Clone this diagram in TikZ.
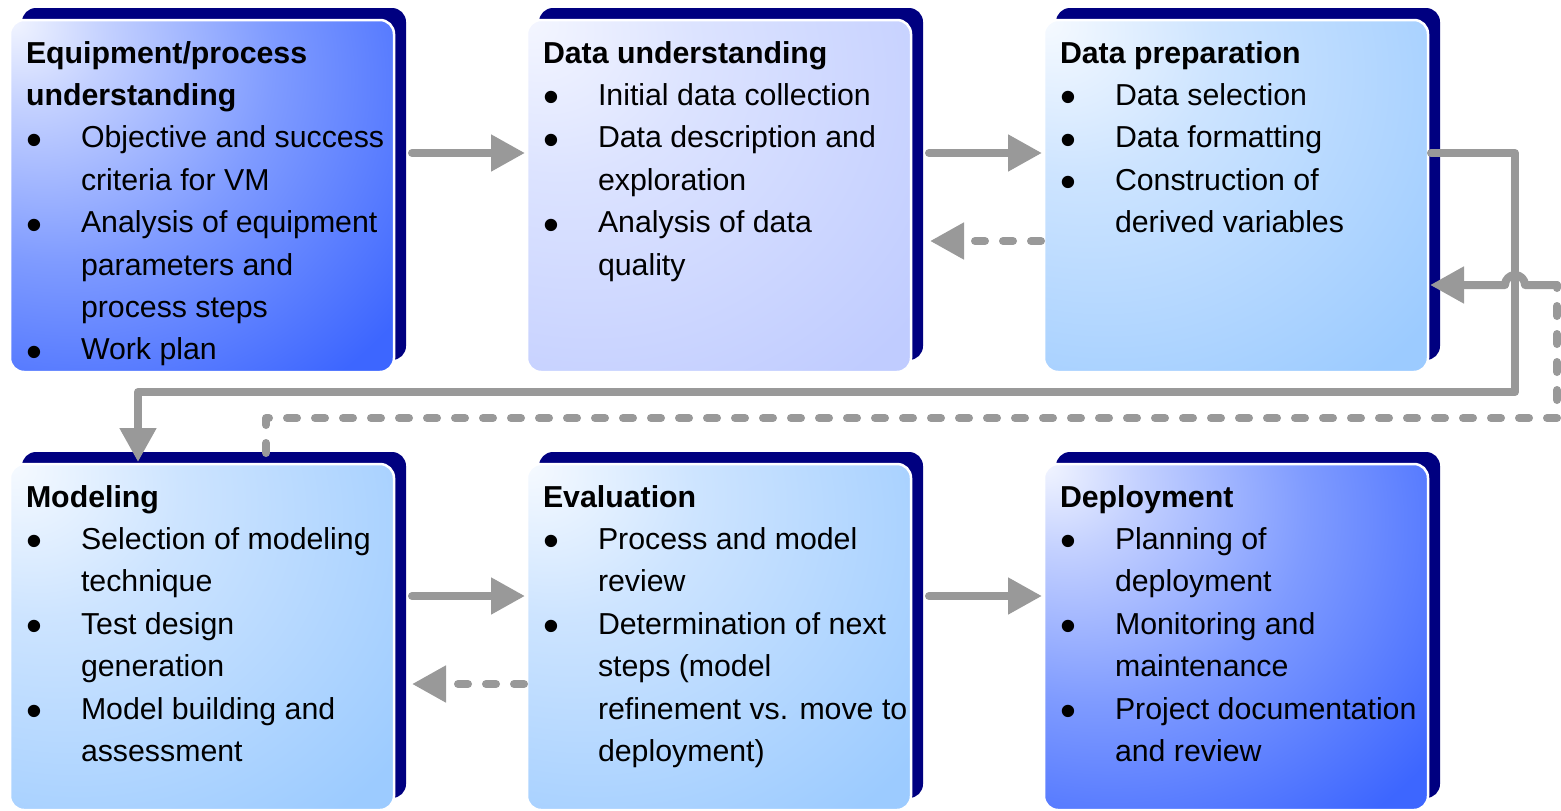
\documentclass[tikz,border=0pt]{standalone}
\usepackage{fontspec}
\setmainfont{Liberation Sans}
\usepackage{graphicx}
\usetikzlibrary{arrows.meta,shadows}

% palette
\definecolor{navyshade}{HTML}{000080}
\definecolor{flowgray}{HTML}{999999}
\definecolor{deepA}{HTML}{F2F5FF}
\definecolor{deepB}{HTML}{C4D1FF}
\definecolor{deepC}{HTML}{7F9BFF}
\definecolor{deepD}{HTML}{3D66FF}
\definecolor{lavA}{HTML}{F4F6FF}
\definecolor{lavB}{HTML}{DCE3FF}
\definecolor{lavC}{HTML}{C0CCFF}
\definecolor{skyA}{HTML}{F6FAFF}
\definecolor{skyB}{HTML}{CDE4FF}
\definecolor{skyC}{HTML}{9CCBFF}

% radial fills that start light in the upper left corner of a box
\pgfdeclareradialshading{deepblue}{\pgfpoint{-25bp}{25bp}}{%
  color(0bp)=(deepA); color(10bp)=(deepB); color(28bp)=(deepC);
  color(50bp)=(deepD); color(110bp)=(deepD)}
\pgfdeclareradialshading{lavender}{\pgfpoint{-25bp}{25bp}}{%
  color(0bp)=(lavA); color(18bp)=(lavB); color(50bp)=(lavC);
  color(110bp)=(lavC)}
\pgfdeclareradialshading{skyblue}{\pgfpoint{-25bp}{25bp}}{%
  color(0bp)=(skyA); color(18bp)=(skyB); color(50bp)=(skyC);
  color(110bp)=(skyC)}

% box text helpers
\newcommand{\dotmark}{\raisebox{-7.5pt}{\scalebox{1.5}{\textbullet}}}
\newcommand{\bitem}[1]{\makebox[55pt][l]{\dotmark}#1}
\newcommand{\bcont}[1]{\hspace*{55pt}#1}
\newcommand{\stagetext}[1]{\parbox[t]{400pt}{\fontsize{30.3pt}{42.4pt}\selectfont\raggedright #1}}

\tikzset{
  stage/.style={rectangle, rounded corners=14pt, minimum width=384pt,
    minimum height=352pt, inner sep=0pt, outer sep=0pt, draw=white,
    line width=2.5pt, shade,
    general shadow={fill=navyshade, shadow xshift=12pt, shadow yshift=12pt}},
  lowstage/.style={stage, minimum height=346pt},
  stagelabel/.style={anchor=base west, inner sep=0pt, outer sep=0pt},
  flow/.style={draw=flowgray, line width=8pt, line cap=round, line join=round,
    -{Triangle[length=34pt,width=35pt]}},
  backflow/.style={flow, dash pattern=on 10pt off 18pt},
}

\begin{document}
\begin{tikzpicture}[x=1pt,y=-1pt]
\useasboundingbox (0,0) rectangle (1561,811);

% stage boxes
\node[stage, shading=deepblue] (b1) at (202,196) {};
\node[stage, shading=lavender] (b2) at (719,196) {};
\node[stage, shading=skyblue]  (b3) at (1236,196) {};
\node[lowstage, shading=skyblue]  (b4) at (202,637) {};
\node[lowstage, shading=skyblue]  (b5) at (719,637) {};
\node[lowstage, shading=deepblue] (b6) at (1236,637) {};

% stage contents
\node[stagelabel] (t1) at ([xshift=16pt,yshift=-43pt]b1.north west) {\stagetext{%
  \textbf{Equipment/process}\\
  \textbf{understanding}\\
  \bitem{Objective and success}\\
  \bcont{criteria for VM}\\
  \bitem{Analysis of equipment}\\
  \bcont{parameters and}\\
  \bcont{process steps}\\
  \bitem{Work plan}}};
\node[stagelabel] (t2) at ([xshift=16pt,yshift=-43pt]b2.north west) {\stagetext{%
  \textbf{Data understanding}\\
  \bitem{Initial data collection}\\
  \bitem{Data description and}\\
  \bcont{exploration}\\
  \bitem{Analysis of data}\\
  \bcont{quality}}};
\node[stagelabel] (t3) at ([xshift=16pt,yshift=-43pt]b3.north west) {\stagetext{%
  \textbf{Data preparation}\\
  \bitem{Data selection}\\
  \bitem{Data formatting}\\
  \bitem{Construction of}\\
  \bcont{derived variables}}};
\node[stagelabel] (t4) at ([xshift=16pt,yshift=-43pt]b4.north west) {\stagetext{%
  \textbf{Modeling}\\
  \bitem{Selection of modeling}\\
  \bcont{technique}\\
  \bitem{Test design}\\
  \bcont{generation}\\
  \bitem{Model building and}\\
  \bcont{assessment}}};
\node[stagelabel] (t5) at ([xshift=16pt,yshift=-43pt]b5.north west) {\stagetext{%
  \textbf{Evaluation}\\
  \bitem{Process and model}\\
  \bcont{review}\\
  \bitem{Determination of next}\\
  \bcont{steps (model}\\
  \bcont{refinement vs. move to}\\
  \bcont{deployment)}}};
\node[stagelabel] (t6) at ([xshift=16pt,yshift=-43pt]b6.north west) {\stagetext{%
  \textbf{Deployment}\\
  \bitem{Planning of}\\
  \bcont{deployment}\\
  \bitem{Monitoring and}\\
  \bcont{maintenance}\\
  \bitem{Project documentation}\\
  \bcont{and review}}};

% forward steps
\draw[flow] ([xshift=18pt,yshift=43pt]b1.east) -- ([xshift=-2pt,yshift=43pt]b2.west);
\draw[flow] ([xshift=18pt,yshift=43pt]b2.east) -- ([xshift=-2pt,yshift=43pt]b3.west);
\draw[flow] ([xshift=18pt,yshift=41pt]b4.east) -- ([xshift=-2pt,yshift=41pt]b5.west);
\draw[flow] ([xshift=18pt,yshift=41pt]b5.east) -- ([xshift=-2pt,yshift=41pt]b6.west);

% feedback steps
\draw[backflow] ([xshift=-3pt,yshift=-45pt]b3.west) -- ([xshift=19pt,yshift=-45pt]b2.east);
\draw[backflow] ([xshift=-3pt,yshift=-47pt]b5.west) -- ([xshift=18pt,yshift=-47pt]b4.east);

% preparation -> modeling, round the right side
\coordinate (loopturn) at (1515,392);
\draw[flow] ([xshift=3pt,yshift=43pt]b3.east) -| (loopturn) -| ([xshift=-64pt,yshift=2pt]b4.north);

% modeling -> preparation, dashed return with a hop over the solid line
\coordinate (retA) at (266,418);
\coordinate (retB) at (1557,418);
\coordinate (retC) at (1557,285);
\draw[backflow,-] ([xshift=64pt,yshift=11pt]b4.north) -- (retA) -- (retB) -- (retC);
\draw[flow] (retC) -- (1525,285) arc[start angle=0, end angle=-180, radius=10]
  -- ([xshift=2pt,yshift=-89pt]b3.east);
\end{tikzpicture}
\end{document}
